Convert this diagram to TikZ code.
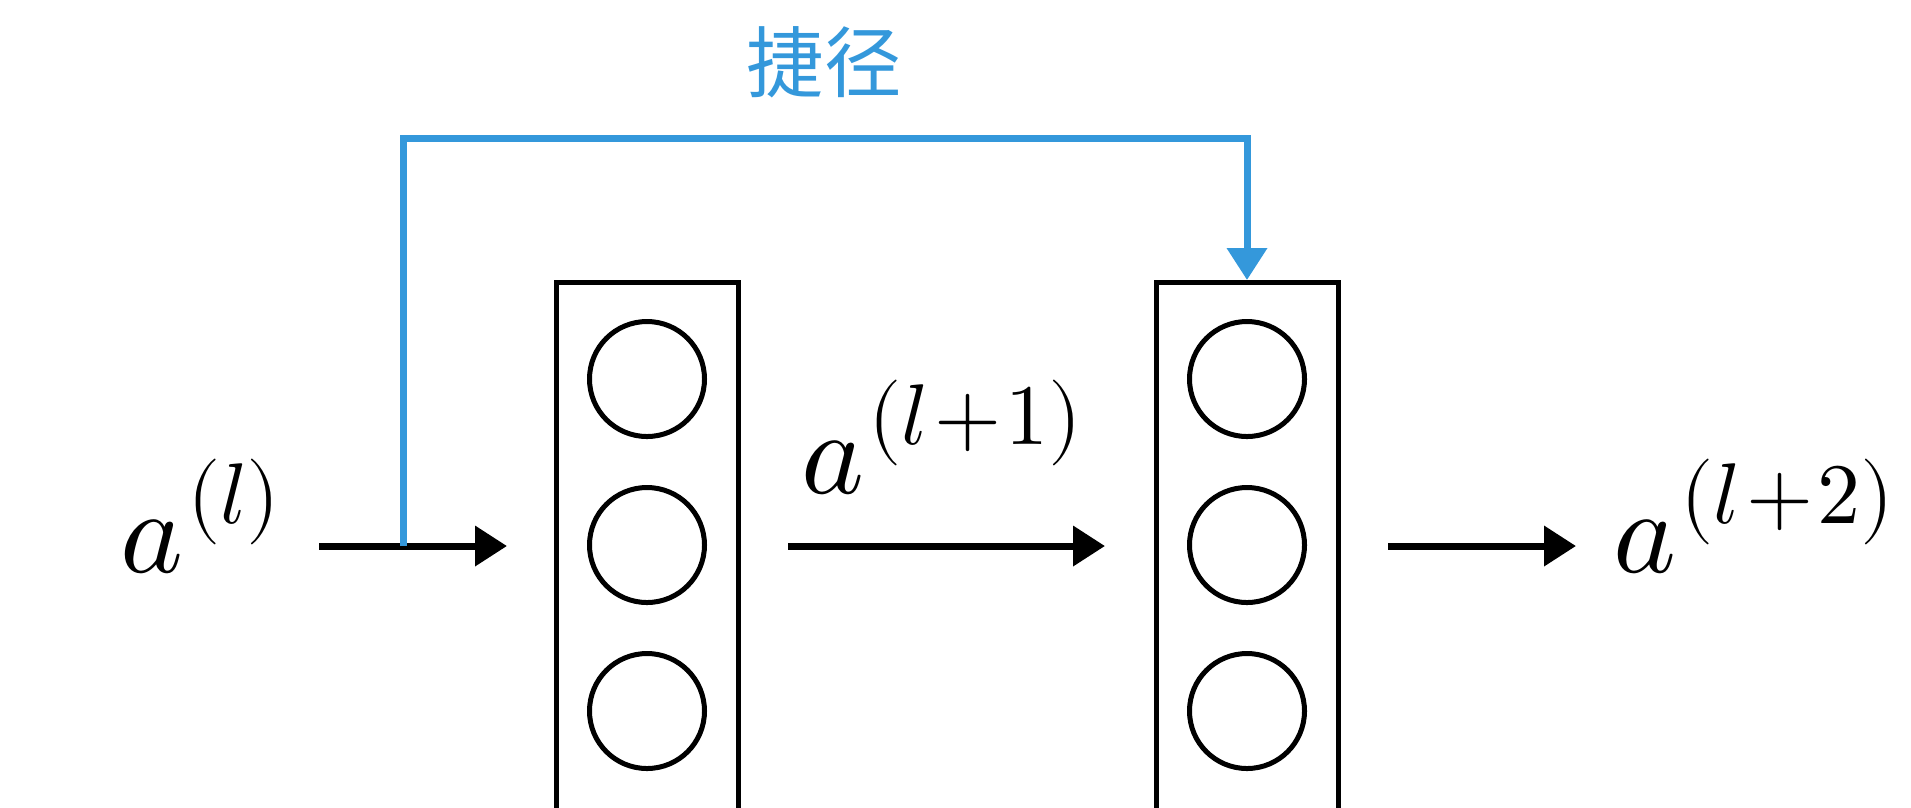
\documentclass[tikz,border=0pt]{standalone}
\usepackage{unicode-math}
\setmathfont{Latin Modern Math}
\newfontfamily\cjk{Noto Sans CJK SC}
\usetikzlibrary{arrows.meta}
\definecolor{skipblue}{RGB}{52,152,219}
% activation a^{(...)} with a hand-set superscript
\newcommand{\act}[1]{$a$\kern1pt\raisebox{0.49cm}{\fontsize{24.5}{28}\selectfont$(#1)$}}

\begin{document}
\begin{tikzpicture}[>={Triangle[length=3.2mm,width=3.9mm]}, line join=miter,
    layer/.style={draw, line width=0.05cm, minimum width=1.82cm, minimum height=6cm, inner sep=0, anchor=north},
    unit/.style={draw, circle, line width=0.05cm, minimum size=1.15cm, inner sep=0},
    lbl/.style={font=\fontsize{34}{40}\selectfont, anchor=base west, inner sep=0},
    arr/.style={->, line width=0.07cm},
    skip/.style={->, draw=skipblue, line width=0.07cm}]
  \clip (0,0) rectangle (19.11,-8.07);

  % two layers of units
  \node[layer] (L1) at (6.47,-2.80) {};
  \node[layer] (L2) at (12.47,-2.80) {};
  \foreach \y [count=\i] in {-3.79,-5.45,-7.11} {
    \node[unit] (u1\i) at (6.47,\y) {};
    \node[unit] (u2\i) at (12.47,\y) {};
  }

  % activations
  \node[lbl] (a0) at (1.20,-5.72) {\act{l}};
  \node[lbl] (a1) at (8.01,-4.93) {\act{l\kern2pt{+}\kern1pt1}};
  \node[lbl] (a2) at (16.13,-5.72) {\act{l\kern2pt{+}\kern1pt2}};

  \coordinate (s1) at (3.19,-5.46);
  \coordinate (e1) at (5.07,-5.46);
  \coordinate (s2) at (7.88,-5.46);
  \coordinate (e2) at (11.05,-5.46);
  \coordinate (s3) at (13.88,-5.46);
  \coordinate (e3) at (15.76,-5.46);
  \coordinate (k) at (4.03,-5.46);

  \draw[arr] (s1) -- (e1);
  \draw[arr] (s2) -- (e2);
  \draw[arr] (s3) -- (e3);

  % shortcut
  \draw[skip] (k) -- ++(0,4.08) -| (L2.north);
  \node[text=skipblue, font=\cjk\fontsize{22}{26}\selectfont, inner sep=0] (sc) at (8.24,-0.62) {捷径};
\end{tikzpicture}
\end{document}
